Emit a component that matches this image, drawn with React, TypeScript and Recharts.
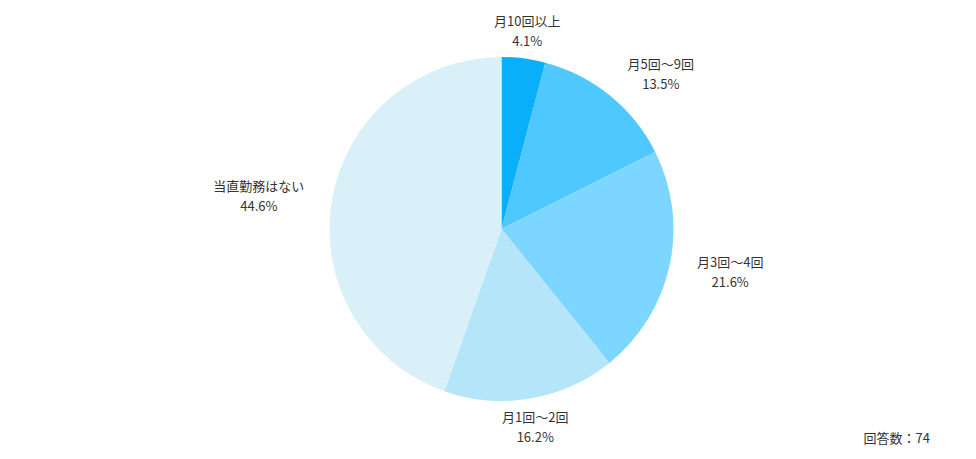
import { PieChart, Pie, Cell } from 'recharts'

const categories = ['月10回以上', '月5回〜9回', '月3回〜4回', '月1回〜2回', '当直勤務はない']
const shares = [4.1, 13.5, 21.6, 16.2, 44.6]
const colors = ['#09AFF9', '#4FC7FF', '#7DD6FF', '#B4E5F9', '#DAF0F9']
const responseCount = 74

const data = categories.map((name, i) => ({ name, value: shares[i] }))

const RADIAN = Math.PI / 180
const FONT = '"Noto Sans CJK JP", "Noto Sans", sans-serif'
const FONT_SIZE = 13

// rough text width: full-width glyphs vs half-width
const textWidth = (s: string) =>
  [...s].reduce((w, ch) => w + (ch.charCodeAt(0) > 0x2000 ? FONT_SIZE : FONT_SIZE * 0.56), 0)

// two-line label placed just outside the slice, lines centered within the block
const renderLabel = (props: any) => {
  const { cx, cy, midAngle, outerRadius, name, value } = props
  const r = outerRadius + 28
  const cos = Math.cos(-midAngle * RADIAN)
  const x = cx + r * cos
  const y = cy + r * Math.sin(-midAngle * RADIAN)
  const pct = `${value.toFixed(1)}%`
  const w = Math.max(textWidth(name), textWidth(pct))
  const center = Math.abs(cos) < 0.3 ? x : cos > 0 ? x + w / 2 : x - w / 2
  return (
    <text x={center} y={y} textAnchor="middle" fill="#333" fontSize={FONT_SIZE} fontFamily={FONT}>
      <tspan x={center} y={y - 10} dominantBaseline="central">{name}</tspan>
      <tspan x={center} y={y + 10} dominantBaseline="central">{pct}</tspan>
    </text>
  )
}

export default function App() {
  return (
    <div style={{ position: 'absolute', left: 0, top: 0, width: 976, height: 459, background: '#fff' }}>
      <PieChart width={976} height={459} margin={{ top: 0, right: 0, bottom: 0, left: 0 }}>
        <Pie
          data={data}
          dataKey="value"
          nameKey="name"
          cx={501.5}
          cy={229}
          outerRadius={172}
          startAngle={90}
          endAngle={-270}
          stroke="none"
          label={renderLabel}
          labelLine={false}
          isAnimationActive={false}
        >
          {data.map((d, i) => (
            <Cell key={d.name} fill={colors[i]} />
          ))}
        </Pie>
      </PieChart>
      <div
        style={{
          position: 'absolute',
          right: 46,
          top: 428,
          fontSize: FONT_SIZE,
          color: '#333',
          fontFamily: FONT,
        }}
      >
        回答数：{responseCount}
      </div>
    </div>
  )
}
